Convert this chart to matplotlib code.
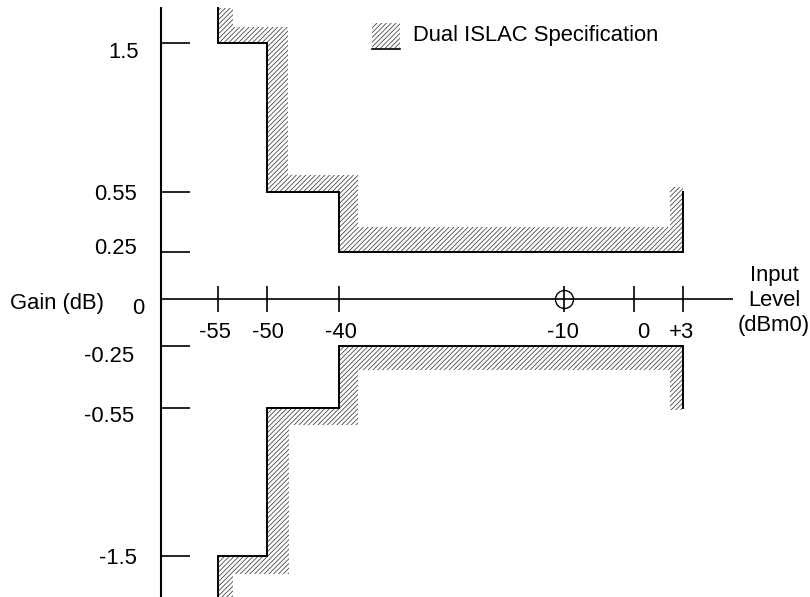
import numpy as np
import matplotlib
matplotlib.use('Agg')
import matplotlib.pyplot as plt
from matplotlib.patches import Polygon, Rectangle

plt.rcParams['font.family'] = ['Liberation Sans', 'DejaVu Sans']
plt.rcParams['hatch.linewidth'] = 0.55

# mask break points (dBm0) and gain limits (dB)
input_levels = [-55, -50, -40, 3]
upper_gain = [1.5, 0.55, 0.25]
lower_gain = [-1.5, -0.55, -0.25]
upper_end = 0.55
lower_end = -0.55
ref_level = -10

x_tick_vals = [-55, -50, -40, -10, 0, 3]
x_tick_text = ['-55', '-50', '-40', '-10', '0', '+3']
y_tick_vals = [1.5, 0.55, 0.25, 0, -0.25, -0.55, -1.5]
y_tick_text = ['1.5', '0.55', '0.25', '0', '-0.25', '-0.55', '-1.5']

# the drawing is a schematic: axes are not linear, so each labelled value
# gets its own position (pixels) and a piecewise scale is built from that
W, H = 810, 597
x_anchor_px = [218, 267, 339, 564, 634, 683]
y_anchor_px = [554, 405, 345, 298, 251, 189, 41]   # measured from bottom
ax_left, ax_right, ax_top = 161, 733, 589

PT = 0.72  # points per pixel at dpi 100
FS = 15.8
HATCH_COL = '#3a3a3a'
HATCH = '///////'


def piecewise(vals, pos):
    v = np.asarray(vals, float)
    p = np.asarray(pos, float)
    order = np.argsort(v)
    v, p = v[order], p[order]

    def f(a, src, dst):
        a = np.asarray(a, float)
        out = np.interp(a, src, dst)
        lo = (dst[1] - dst[0]) / (src[1] - src[0])
        hi = (dst[-1] - dst[-2]) / (src[-1] - src[-2])
        out = np.where(a < src[0], dst[0] + (a - src[0]) * lo, out)
        out = np.where(a > src[-1], dst[-1] + (a - src[-1]) * hi, out)
        return out

    return (lambda a: f(a, v, p)), (lambda a: f(a, p, v))


fx, ix = piecewise(x_tick_vals, x_anchor_px)
fy, iy = piecewise(y_tick_vals, y_anchor_px)

fig = plt.figure(figsize=(W / 100, H / 100), dpi=100)
ax = fig.add_axes([ax_left / W, 0, (ax_right - ax_left) / W, ax_top / H])
ax.set_xscale('function', functions=(fx, ix))
ax.set_yscale('function', functions=(fy, iy))
ax.set_xlim(float(ix(ax_left)), float(ix(ax_right)))
ax.set_ylim(float(iy(0)), float(iy(ax_top)))
ymin, ymax = ax.get_ylim()

for s in ['top', 'right', 'bottom']:
    ax.spines[s].set_visible(False)
ax.spines['left'].set_linewidth(1.5)
ax.set_xticks([])
ax.set_xticks([], minor=True)
ax.set_yticks([v for v in y_tick_vals if v != 0])
ax.set_yticks([], minor=True)
ax.set_yticklabels([])
ax.tick_params(axis='y', direction='in', length=29 * PT, width=1.2, color='black')

# x axis line, ticks and reference point
ax.axhline(0, color='black', lw=1.2, zorder=3)
ax.plot(x_tick_vals, np.zeros(len(x_tick_vals)), ls='none', marker='|',
        ms=27 * PT, mew=1.2, color='black', zorder=3)
ax.plot([ref_level], [0], ls='none', marker='o', ms=18 * PT, mfc='none',
        mec='black', mew=1.0, zorder=4)

x_nudge = [-3, 1, 2, -1, 9, -2]
for v, t, dx in zip(x_tick_vals, x_tick_text, x_nudge):
    ax.annotate(t, xy=(v, 0), xytext=(dx * PT, -34 * PT), textcoords='offset points',
                ha='center', va='center', fontsize=FS)

y_nudge = [-9, -2, 3, -9, -11, -8, -3]
y_right = [-22, -24, -24, -17, -27, -27, -24]
for v, t, dy, dx in zip(y_tick_vals, y_tick_text, y_nudge, y_right):
    ax.annotate(t, xy=(0, v), xycoords=('axes fraction', 'data'),
                xytext=(dx * PT, dy * PT), textcoords='offset points',
                ha='right', va='center', fontsize=FS, annotation_clip=False)


def mask_path(levels, start, end):
    xs = [input_levels[0]]
    ys = [start]
    for i, g in enumerate(levels):
        xs += [input_levels[i], input_levels[i + 1]]
        ys += [g, g]
    xs.append(input_levels[-1])
    ys.append(end)
    return np.column_stack([xs, ys])


def band(mask, dxs, dys, ext, sign):
    tr = ax.transData
    m = tr.transform(mask)
    X = [m[0, 0], m[2, 0], m[4, 0], m[6, 0]]
    L = [m[1, 1], m[3, 1], m[5, 1]]
    ys, ye = m[0, 1], m[-1, 1]
    outer = [(X[0] + dxs[0], ys), (X[0] + dxs[0], L[0] + sign * dys[0]),
             (X[1] + dxs[1], L[0] + sign * dys[0]), (X[1] + dxs[1], L[1] + sign * dys[1]),
             (X[2] + dxs[2], L[1] + sign * dys[1]), (X[2] + dxs[2], L[2] + sign * dys[2]),
             (X[3] + dxs[3], L[2] + sign * dys[2]), (X[3] + dxs[3], ye + sign * ext)]
    poly = list(map(tuple, m)) + [(X[3], ye + sign * ext)] + outer[::-1]
    return tr.inverted().transform(poly)


up = mask_path(upper_gain, ymax, upper_end)
lo = mask_path(lower_gain, ymin, lower_end)

for mask, dxs, dys, ext, sign in [(up, [15, 21, 19, -13], [16, 17, 25], 5, 1),
                                  (lo, [15, 22, 19, -13], [18, 17, 24], 2, -1)]:
    ax.add_patch(Polygon(band(mask, dxs, dys, ext, sign), closed=True, facecolor='white',
                         edgecolor=HATCH_COL, hatch=HATCH, lw=0, zorder=1, clip_on=False))
    ax.plot(mask[:, 0], mask[:, 1], color='black', lw=1.4, zorder=2,
            solid_joinstyle='miter', clip_on=False)

# legend key
fig.add_artist(Rectangle((372 / W, 1 - 49 / H), 28 / W, 26 / H, transform=fig.transFigure,
                         facecolor='white', edgecolor=HATCH_COL, hatch=HATCH, lw=0))
fig.add_artist(plt.Line2D([372 / W, 400 / W], [1 - 49 / H, 1 - 49 / H],
                          transform=fig.transFigure, color='black', lw=1.2))
fig.text(413 / W, 1 - 36 / H, 'Dual ISLAC Specification', ha='left', va='center', fontsize=FS)

fig.text(10 / W, 1 - 304 / H, 'Gain (dB)', ha='left', va='center', fontsize=FS)
fig.text(774 / W, 1 - 300 / H, 'Input\nLevel\n(dBm0)', ha='center', va='center',
         fontsize=FS, linespacing=1.25)

fig.savefig('out.png', dpi=100)
plt.close(fig)
